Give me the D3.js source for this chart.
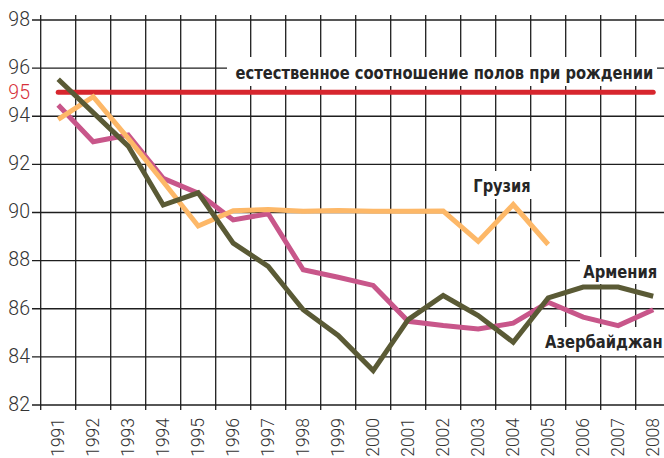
<!DOCTYPE html>
<html>
<head>
<meta charset="utf-8">
<script src="https://cdn.jsdelivr.net/npm/d3@7"></script>
<style>
  html, body { margin: 0; padding: 0; background: #fff; }
  svg { display: block; }
  .tick-y { font-family: "Roboto", "Open Sans", sans-serif; font-weight: 300; fill: #333; }
  .tick-x { font-family: "Roboto", "Open Sans", sans-serif; font-weight: 300; fill: #333; }
  .lbl { font-family: "DejaVu Sans Condensed", "Liberation Sans Narrow", "DejaVu Sans", sans-serif; font-weight: bold; font-stretch: condensed; fill: #262626; }
</style>
</head>
<body>
<svg id="chart" width="664" height="458"></svg>
<script>
// Number of girls born per 100 boys, 1991–2008
const years = [1991, 1992, 1993, 1994, 1995, 1996, 1997, 1998, 1999,
               2000, 2001, 2002, 2003, 2004, 2005, 2006, 2007, 2008];
const armenia = [95.54, 94.15, 92.76, 90.31, 90.82, 88.73, 87.76, 85.96, 84.89,
                 83.43, 85.55, 86.55, 85.72, 84.61, 86.45, 86.9, 86.9, 86.52];
const azerbaijan = [94.47, 92.94, 93.22, 91.42, 90.8, 89.69, 89.95, 87.62, 87.31,
                    86.97, 85.48, 85.3, 85.16, 85.4, 86.27, 85.65, 85.3, 85.96];
const georgia = [93.87, 94.81, 93.08, 91.28, 89.44, 90.07, 90.12, 90.05, 90.08,
                 90.05, 90.05, 90.06, 88.8, 90.33, 88.67];
const naturalRatio = 95;
const yTicks = [82, 84, 86, 88, 90, 92, 94, 96, 98];

const svg = d3.select("#chart");

const x = d3.scaleBand().domain(years).range([40.7, 670.7]).padding(0);
const y = d3.scaleLinear().domain([82, 98]).range([405, 20]);
const cx = d => x(d) + x.bandwidth() / 2;

// grid
const grid = svg.append("g").attr("stroke", "#1e1e1e").attr("stroke-width", 1.3);
grid.selectAll("line.h").data(yTicks).join("line")
  .attr("class", "h")
  .attr("x1", 32).attr("x2", 670)
  .attr("y1", d => y(d)).attr("y2", d => y(d));
const vEdges = years.map(d => x(d)).concat([x.range()[1]]);
grid.selectAll("line.v").data(vEdges).join("line")
  .attr("class", "v")
  .attr("x1", d => d).attr("x2", d => d)
  .attr("y1", 15).attr("y2", 410);

// y tick labels
svg.append("g").selectAll("text").data(yTicks).join("text")
  .attr("class", "tick-y")
  .attr("x", 30).attr("y", d => y(d) - 1)
  .attr("dy", "0.35em")
  .attr("text-anchor", "end")
  .attr("font-size", 19.5)
  .text(d => d);
svg.append("text")
  .attr("class", "tick-y")
  .attr("x", 30).attr("y", y(naturalRatio))
  .attr("dy", "0.35em")
  .attr("text-anchor", "end")
  .attr("font-size", 19.5)
  .style("fill", "#d7303a")
  .text(naturalRatio);

// x tick labels, rotated
svg.append("g").selectAll("text").data(years).join("text")
  .attr("class", "tick-x")
  .attr("transform", d => `translate(${cx(d)},418) rotate(-90)`)
  .attr("dy", "0.35em")
  .attr("text-anchor", "end")
  .attr("font-size", 17.5)
  .text(d => d);

// series labels, right-aligned; white boxes sit behind them
const labels = [
  { text: "естественное соотношение полов при рождении", x: 653.3, y: 78.5, len: 418, box: [227, 57, 430, 29] },
  { text: "Грузия", x: 530.7, y: 192.3, len: 57.4, box: [470, 171, 64, 28] },
  { text: "Армения", x: 657.3, y: 277.7, len: 74, box: [580, 257, 84, 27] },
  { text: "Азербайджан", x: 662.7, y: 348.3, len: 117.7, box: [542, 327, 122, 28] }
];
svg.append("g").selectAll("rect").data(labels).join("rect")
  .attr("x", d => d.box[0]).attr("y", d => d.box[1])
  .attr("width", d => d.box[2]).attr("height", d => d.box[3])
  .attr("fill", "#fff");

// series
const line = d3.line().x((d, i) => cx(years[i])).y(d => y(d));

svg.append("path")
  .datum(years.map(() => naturalRatio))
  .attr("d", line)
  .attr("fill", "none").attr("stroke", "#d7262e")
  .attr("stroke-width", 5).attr("stroke-linecap", "round");

const series = [
  { values: azerbaijan, color: "#c8568a" },
  { values: georgia, color: "#fdb868" },
  { values: armenia, color: "#5a5a35" }
];
svg.append("g").selectAll("path").data(series).join("path")
  .attr("d", d => line(d.values))
  .attr("fill", "none")
  .attr("stroke", d => d.color)
  .attr("stroke-width", 5)
  .attr("stroke-linejoin", "miter");

// label texts, squeezed horizontally to the condensed width
svg.append("g").selectAll("text").data(labels).join("text")
  .attr("class", "lbl")
  .attr("x", 0).attr("y", 0)
  .attr("text-anchor", "end")
  .attr("font-size", 18.5)
  .text(d => d.text)
  .each(function (d) {
    const w = this.getComputedTextLength();
    const k = w > 0 ? d.len / w : 1;
    d3.select(this).attr("transform", `translate(${d.x},${d.y}) scale(${k},1)`);
  });
</script>
</body>
</html>
